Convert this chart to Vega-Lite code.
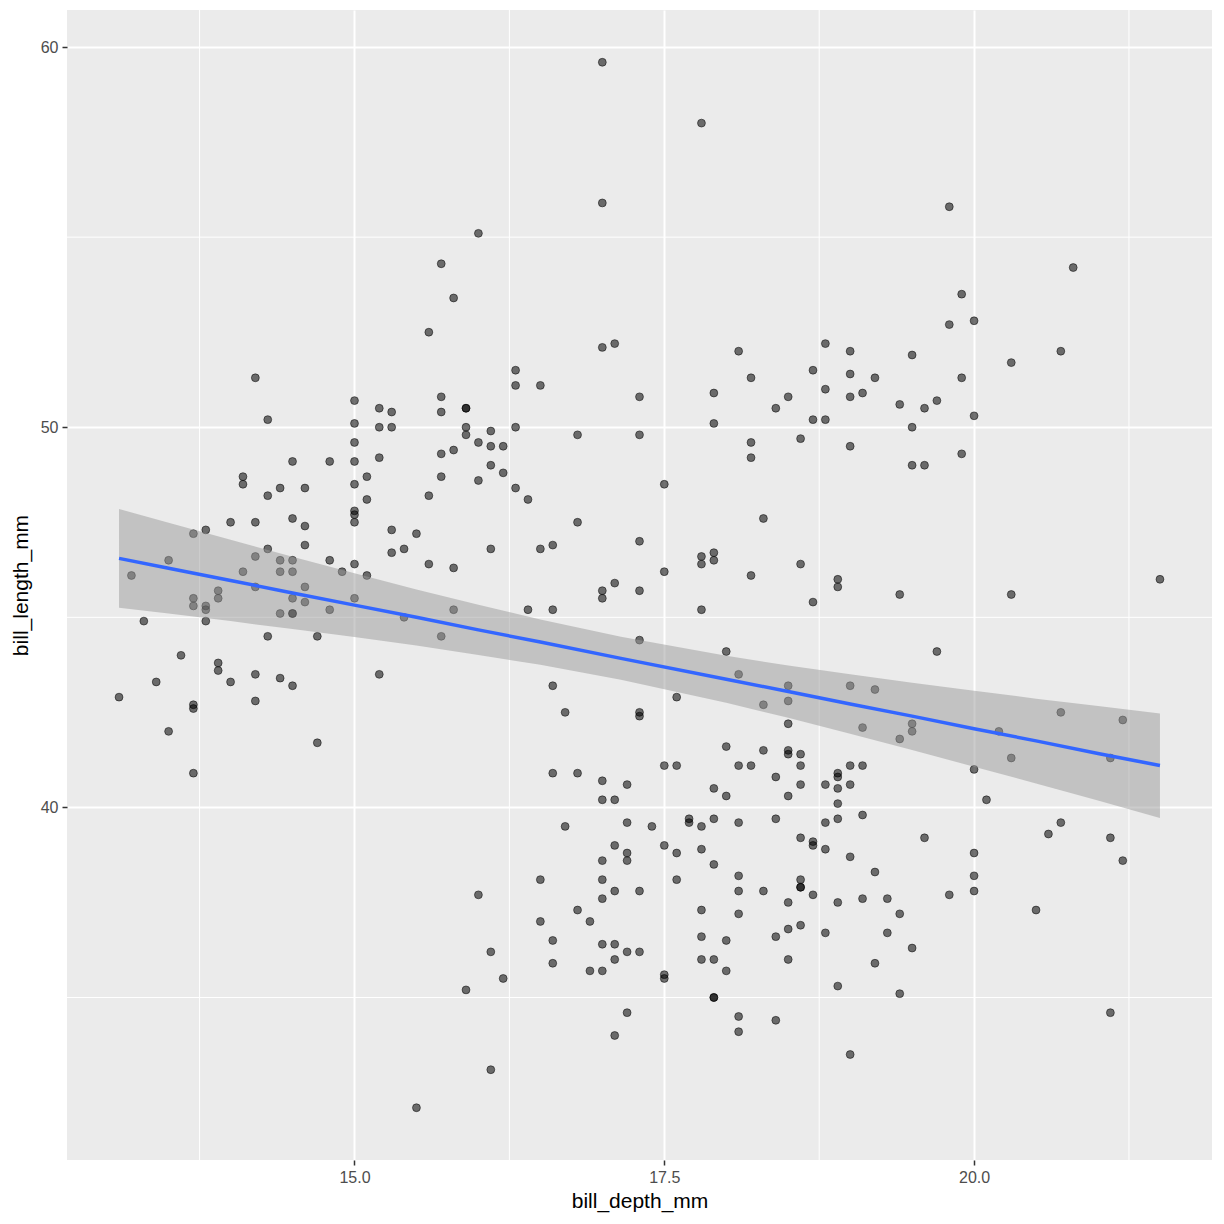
{
  "$schema": "https://vega.github.io/schema/vega-lite/v6.json",
  "width": 1145,
  "height": 1150,
  "autosize": {"type": "none"},
  "padding": {"left": 67, "top": 10, "right": 12, "bottom": 64},
  "background": "white",
  "config": {
    "view": {"fill": "#EBEBEB", "stroke": null},
    "font": "Liberation Sans",
    "axis": {
      "domain": false,
      "grid": true,
      "gridColor": "white",
      "gridWidth": 2,
      "tickColor": "#333333",
      "tickSize": 5,
      "tickWidth": 1.5,
      "labelFont": "Liberation Sans",
      "labelFontSize": 16,
      "labelColor": "#4D4D4D",
      "titleFont": "Liberation Sans",
      "titleFontSize": 21,
      "titleFontWeight": "normal",
      "titleColor": "black"
    }
  },
  "datasets": {
    "penguins": [
      {"bill_depth_mm":14.2,"bill_length_mm":51.3},{"bill_depth_mm":15.0,"bill_length_mm":50.7},{"bill_depth_mm":14.3,"bill_length_mm":50.2},{"bill_depth_mm":15.0,"bill_length_mm":50.1},{"bill_depth_mm":15.0,"bill_length_mm":49.6},{"bill_depth_mm":14.5,"bill_length_mm":49.1},{"bill_depth_mm":14.8,"bill_length_mm":49.1},{"bill_depth_mm":15.0,"bill_length_mm":49.1},{"bill_depth_mm":14.1,"bill_length_mm":48.7},{"bill_depth_mm":14.1,"bill_length_mm":48.5},
      {"bill_depth_mm":15.0,"bill_length_mm":48.5},{"bill_depth_mm":14.4,"bill_length_mm":48.4},{"bill_depth_mm":14.6,"bill_length_mm":48.4},{"bill_depth_mm":14.3,"bill_length_mm":48.2},{"bill_depth_mm":15.0,"bill_length_mm":47.8},{"bill_depth_mm":15.0,"bill_length_mm":47.7},{"bill_depth_mm":15.0,"bill_length_mm":47.5},{"bill_depth_mm":14.0,"bill_length_mm":47.5},{"bill_depth_mm":14.2,"bill_length_mm":47.5},{"bill_depth_mm":13.8,"bill_length_mm":47.3},
      {"bill_depth_mm":13.7,"bill_length_mm":47.2},{"bill_depth_mm":14.5,"bill_length_mm":47.6},{"bill_depth_mm":14.6,"bill_length_mm":47.4},{"bill_depth_mm":14.6,"bill_length_mm":46.9},{"bill_depth_mm":14.3,"bill_length_mm":46.8},{"bill_depth_mm":13.5,"bill_length_mm":46.5},{"bill_depth_mm":14.2,"bill_length_mm":46.6},{"bill_depth_mm":14.4,"bill_length_mm":46.5},{"bill_depth_mm":14.5,"bill_length_mm":46.5},{"bill_depth_mm":14.8,"bill_length_mm":46.5},
      {"bill_depth_mm":15.0,"bill_length_mm":46.4},{"bill_depth_mm":13.2,"bill_length_mm":46.1},{"bill_depth_mm":14.1,"bill_length_mm":46.2},{"bill_depth_mm":14.4,"bill_length_mm":46.2},{"bill_depth_mm":14.5,"bill_length_mm":46.2},{"bill_depth_mm":14.9,"bill_length_mm":46.2},{"bill_depth_mm":14.2,"bill_length_mm":45.8},{"bill_depth_mm":14.6,"bill_length_mm":45.8},{"bill_depth_mm":13.9,"bill_length_mm":45.7},{"bill_depth_mm":13.7,"bill_length_mm":45.5},
      {"bill_depth_mm":13.7,"bill_length_mm":45.3},{"bill_depth_mm":13.8,"bill_length_mm":45.3},{"bill_depth_mm":13.8,"bill_length_mm":45.2},{"bill_depth_mm":13.9,"bill_length_mm":45.5},{"bill_depth_mm":14.5,"bill_length_mm":45.5},{"bill_depth_mm":14.6,"bill_length_mm":45.4},{"bill_depth_mm":15.0,"bill_length_mm":45.5},{"bill_depth_mm":14.4,"bill_length_mm":45.1},{"bill_depth_mm":14.5,"bill_length_mm":45.1},{"bill_depth_mm":14.5,"bill_length_mm":45.1},
      {"bill_depth_mm":14.8,"bill_length_mm":45.2},{"bill_depth_mm":13.3,"bill_length_mm":44.9},{"bill_depth_mm":13.8,"bill_length_mm":44.9},{"bill_depth_mm":14.3,"bill_length_mm":44.5},{"bill_depth_mm":14.7,"bill_length_mm":44.5},{"bill_depth_mm":13.6,"bill_length_mm":44.0},{"bill_depth_mm":13.9,"bill_length_mm":43.8},{"bill_depth_mm":13.9,"bill_length_mm":43.6},{"bill_depth_mm":13.4,"bill_length_mm":43.3},{"bill_depth_mm":14.0,"bill_length_mm":43.3},
      {"bill_depth_mm":14.2,"bill_length_mm":43.5},{"bill_depth_mm":14.4,"bill_length_mm":43.4},{"bill_depth_mm":14.5,"bill_length_mm":43.2},{"bill_depth_mm":13.1,"bill_length_mm":42.9},{"bill_depth_mm":13.7,"bill_length_mm":42.7},{"bill_depth_mm":13.7,"bill_length_mm":42.6},{"bill_depth_mm":14.2,"bill_length_mm":42.8},{"bill_depth_mm":13.5,"bill_length_mm":42.0},{"bill_depth_mm":14.7,"bill_length_mm":41.7},{"bill_depth_mm":13.7,"bill_length_mm":40.9},
      {"bill_depth_mm":16.0,"bill_length_mm":55.1},{"bill_depth_mm":15.7,"bill_length_mm":54.3},{"bill_depth_mm":15.8,"bill_length_mm":53.4},{"bill_depth_mm":15.6,"bill_length_mm":52.5},{"bill_depth_mm":16.3,"bill_length_mm":51.5},{"bill_depth_mm":16.3,"bill_length_mm":51.1},{"bill_depth_mm":16.5,"bill_length_mm":51.1},{"bill_depth_mm":15.2,"bill_length_mm":50.5},{"bill_depth_mm":15.3,"bill_length_mm":50.4},{"bill_depth_mm":15.7,"bill_length_mm":50.8},
      {"bill_depth_mm":15.7,"bill_length_mm":50.4},{"bill_depth_mm":15.9,"bill_length_mm":50.5},{"bill_depth_mm":15.9,"bill_length_mm":50.5},{"bill_depth_mm":15.2,"bill_length_mm":50.0},{"bill_depth_mm":15.3,"bill_length_mm":50.0},{"bill_depth_mm":15.9,"bill_length_mm":50.0},{"bill_depth_mm":15.9,"bill_length_mm":49.8},{"bill_depth_mm":16.1,"bill_length_mm":49.9},{"bill_depth_mm":16.3,"bill_length_mm":50.0},{"bill_depth_mm":16.0,"bill_length_mm":49.6},
      {"bill_depth_mm":16.1,"bill_length_mm":49.5},{"bill_depth_mm":16.2,"bill_length_mm":49.5},{"bill_depth_mm":15.2,"bill_length_mm":49.2},{"bill_depth_mm":15.7,"bill_length_mm":49.3},{"bill_depth_mm":15.8,"bill_length_mm":49.4},{"bill_depth_mm":15.1,"bill_length_mm":48.7},{"bill_depth_mm":15.7,"bill_length_mm":48.7},{"bill_depth_mm":16.1,"bill_length_mm":49.0},{"bill_depth_mm":16.2,"bill_length_mm":48.8},{"bill_depth_mm":16.0,"bill_length_mm":48.6},
      {"bill_depth_mm":15.1,"bill_length_mm":48.1},{"bill_depth_mm":15.6,"bill_length_mm":48.2},{"bill_depth_mm":16.3,"bill_length_mm":48.4},{"bill_depth_mm":16.4,"bill_length_mm":48.1},{"bill_depth_mm":15.3,"bill_length_mm":47.3},{"bill_depth_mm":15.5,"bill_length_mm":47.2},{"bill_depth_mm":15.3,"bill_length_mm":46.7},{"bill_depth_mm":15.4,"bill_length_mm":46.8},{"bill_depth_mm":16.1,"bill_length_mm":46.8},{"bill_depth_mm":16.5,"bill_length_mm":46.8},
      {"bill_depth_mm":16.6,"bill_length_mm":46.9},{"bill_depth_mm":15.1,"bill_length_mm":46.1},{"bill_depth_mm":15.6,"bill_length_mm":46.4},{"bill_depth_mm":15.8,"bill_length_mm":46.3},{"bill_depth_mm":15.4,"bill_length_mm":45.0},{"bill_depth_mm":15.8,"bill_length_mm":45.2},{"bill_depth_mm":16.4,"bill_length_mm":45.2},{"bill_depth_mm":16.6,"bill_length_mm":45.2},{"bill_depth_mm":15.7,"bill_length_mm":44.5},{"bill_depth_mm":15.2,"bill_length_mm":43.5},
      {"bill_depth_mm":16.6,"bill_length_mm":43.2},{"bill_depth_mm":16.6,"bill_length_mm":40.9},{"bill_depth_mm":16.5,"bill_length_mm":38.1},{"bill_depth_mm":16.0,"bill_length_mm":37.7},{"bill_depth_mm":16.5,"bill_length_mm":37.0},{"bill_depth_mm":16.6,"bill_length_mm":36.5},{"bill_depth_mm":16.1,"bill_length_mm":36.2},{"bill_depth_mm":16.6,"bill_length_mm":35.9},{"bill_depth_mm":16.2,"bill_length_mm":35.5},{"bill_depth_mm":15.9,"bill_length_mm":35.2},
      {"bill_depth_mm":16.1,"bill_length_mm":33.1},{"bill_depth_mm":15.5,"bill_length_mm":32.1},{"bill_depth_mm":17.0,"bill_length_mm":59.6},{"bill_depth_mm":17.8,"bill_length_mm":58.0},{"bill_depth_mm":17.0,"bill_length_mm":55.9},{"bill_depth_mm":17.0,"bill_length_mm":52.1},{"bill_depth_mm":17.1,"bill_length_mm":52.2},{"bill_depth_mm":18.1,"bill_length_mm":52.0},{"bill_depth_mm":18.2,"bill_length_mm":51.3},{"bill_depth_mm":17.3,"bill_length_mm":50.8},
      {"bill_depth_mm":17.9,"bill_length_mm":50.9},{"bill_depth_mm":16.8,"bill_length_mm":49.8},{"bill_depth_mm":17.3,"bill_length_mm":49.8},{"bill_depth_mm":17.9,"bill_length_mm":50.1},{"bill_depth_mm":18.2,"bill_length_mm":49.6},{"bill_depth_mm":18.2,"bill_length_mm":49.2},{"bill_depth_mm":17.5,"bill_length_mm":48.5},{"bill_depth_mm":16.8,"bill_length_mm":47.5},{"bill_depth_mm":18.3,"bill_length_mm":47.6},{"bill_depth_mm":17.3,"bill_length_mm":47.0},
      {"bill_depth_mm":17.8,"bill_length_mm":46.6},{"bill_depth_mm":17.8,"bill_length_mm":46.4},{"bill_depth_mm":17.9,"bill_length_mm":46.7},{"bill_depth_mm":17.9,"bill_length_mm":46.5},{"bill_depth_mm":17.5,"bill_length_mm":46.2},{"bill_depth_mm":17.0,"bill_length_mm":45.7},{"bill_depth_mm":17.0,"bill_length_mm":45.5},{"bill_depth_mm":17.1,"bill_length_mm":45.9},{"bill_depth_mm":17.3,"bill_length_mm":45.7},{"bill_depth_mm":18.2,"bill_length_mm":46.1},
      {"bill_depth_mm":17.8,"bill_length_mm":45.2},{"bill_depth_mm":17.3,"bill_length_mm":44.4},{"bill_depth_mm":18.0,"bill_length_mm":44.1},{"bill_depth_mm":18.1,"bill_length_mm":43.5},{"bill_depth_mm":17.6,"bill_length_mm":42.9},{"bill_depth_mm":16.7,"bill_length_mm":42.5},{"bill_depth_mm":17.3,"bill_length_mm":42.5},{"bill_depth_mm":17.3,"bill_length_mm":42.4},{"bill_depth_mm":18.0,"bill_length_mm":41.6},{"bill_depth_mm":16.8,"bill_length_mm":40.9},
      {"bill_depth_mm":17.5,"bill_length_mm":41.1},{"bill_depth_mm":17.6,"bill_length_mm":41.1},{"bill_depth_mm":18.1,"bill_length_mm":41.1},{"bill_depth_mm":18.2,"bill_length_mm":41.1},{"bill_depth_mm":17.0,"bill_length_mm":40.7},{"bill_depth_mm":17.2,"bill_length_mm":40.6},{"bill_depth_mm":17.9,"bill_length_mm":40.5},{"bill_depth_mm":18.0,"bill_length_mm":40.3},{"bill_depth_mm":17.0,"bill_length_mm":40.2},{"bill_depth_mm":17.1,"bill_length_mm":40.2},
      {"bill_depth_mm":16.7,"bill_length_mm":39.5},{"bill_depth_mm":17.2,"bill_length_mm":39.6},{"bill_depth_mm":17.4,"bill_length_mm":39.5},{"bill_depth_mm":17.7,"bill_length_mm":39.7},{"bill_depth_mm":17.7,"bill_length_mm":39.6},{"bill_depth_mm":17.8,"bill_length_mm":39.5},{"bill_depth_mm":17.9,"bill_length_mm":39.7},{"bill_depth_mm":18.1,"bill_length_mm":39.6},{"bill_depth_mm":17.1,"bill_length_mm":39.0},{"bill_depth_mm":17.2,"bill_length_mm":38.8},
      {"bill_depth_mm":17.2,"bill_length_mm":38.6},{"bill_depth_mm":17.0,"bill_length_mm":38.6},{"bill_depth_mm":17.5,"bill_length_mm":39.0},{"bill_depth_mm":17.6,"bill_length_mm":38.8},{"bill_depth_mm":17.8,"bill_length_mm":38.9},{"bill_depth_mm":17.9,"bill_length_mm":38.5},{"bill_depth_mm":17.0,"bill_length_mm":38.1},{"bill_depth_mm":17.6,"bill_length_mm":38.1},{"bill_depth_mm":18.1,"bill_length_mm":38.2},{"bill_depth_mm":17.1,"bill_length_mm":37.8},
      {"bill_depth_mm":17.3,"bill_length_mm":37.8},{"bill_depth_mm":18.1,"bill_length_mm":37.8},{"bill_depth_mm":17.0,"bill_length_mm":37.6},{"bill_depth_mm":16.8,"bill_length_mm":37.3},{"bill_depth_mm":16.9,"bill_length_mm":37.0},{"bill_depth_mm":17.8,"bill_length_mm":37.3},{"bill_depth_mm":18.1,"bill_length_mm":37.2},{"bill_depth_mm":17.0,"bill_length_mm":36.4},{"bill_depth_mm":17.1,"bill_length_mm":36.4},{"bill_depth_mm":17.2,"bill_length_mm":36.2},
      {"bill_depth_mm":17.3,"bill_length_mm":36.2},{"bill_depth_mm":17.1,"bill_length_mm":36.0},{"bill_depth_mm":17.8,"bill_length_mm":36.6},{"bill_depth_mm":18.0,"bill_length_mm":36.5},{"bill_depth_mm":16.9,"bill_length_mm":35.7},{"bill_depth_mm":17.0,"bill_length_mm":35.7},{"bill_depth_mm":17.8,"bill_length_mm":36.0},{"bill_depth_mm":17.9,"bill_length_mm":36.0},{"bill_depth_mm":18.0,"bill_length_mm":35.7},{"bill_depth_mm":17.5,"bill_length_mm":35.6},
      {"bill_depth_mm":17.5,"bill_length_mm":35.5},{"bill_depth_mm":17.9,"bill_length_mm":35.0},{"bill_depth_mm":17.9,"bill_length_mm":35.0},{"bill_depth_mm":17.2,"bill_length_mm":34.6},{"bill_depth_mm":18.1,"bill_length_mm":34.5},{"bill_depth_mm":18.1,"bill_length_mm":34.1},{"bill_depth_mm":17.1,"bill_length_mm":34.0},{"bill_depth_mm":18.5,"bill_length_mm":50.8},{"bill_depth_mm":18.4,"bill_length_mm":50.5},{"bill_depth_mm":18.7,"bill_length_mm":51.5},
      {"bill_depth_mm":18.8,"bill_length_mm":52.2},{"bill_depth_mm":18.7,"bill_length_mm":50.2},{"bill_depth_mm":18.8,"bill_length_mm":50.2},{"bill_depth_mm":18.8,"bill_length_mm":51.0},{"bill_depth_mm":19.0,"bill_length_mm":52.0},{"bill_depth_mm":19.0,"bill_length_mm":51.4},{"bill_depth_mm":19.0,"bill_length_mm":50.8},{"bill_depth_mm":19.1,"bill_length_mm":50.9},{"bill_depth_mm":19.2,"bill_length_mm":51.3},{"bill_depth_mm":19.5,"bill_length_mm":51.9},
      {"bill_depth_mm":19.4,"bill_length_mm":50.6},{"bill_depth_mm":19.6,"bill_length_mm":50.5},{"bill_depth_mm":19.7,"bill_length_mm":50.7},{"bill_depth_mm":19.8,"bill_length_mm":52.7},{"bill_depth_mm":20.0,"bill_length_mm":52.8},{"bill_depth_mm":19.9,"bill_length_mm":51.3},{"bill_depth_mm":20.0,"bill_length_mm":50.3},{"bill_depth_mm":19.5,"bill_length_mm":50.0},{"bill_depth_mm":18.6,"bill_length_mm":49.7},{"bill_depth_mm":19.0,"bill_length_mm":49.5},
      {"bill_depth_mm":19.5,"bill_length_mm":49.0},{"bill_depth_mm":19.6,"bill_length_mm":49.0},{"bill_depth_mm":19.9,"bill_length_mm":49.3},{"bill_depth_mm":18.6,"bill_length_mm":46.4},{"bill_depth_mm":18.7,"bill_length_mm":45.4},{"bill_depth_mm":18.9,"bill_length_mm":46.0},{"bill_depth_mm":18.9,"bill_length_mm":45.8},{"bill_depth_mm":19.4,"bill_length_mm":45.6},{"bill_depth_mm":19.7,"bill_length_mm":44.1},{"bill_depth_mm":18.5,"bill_length_mm":43.2},
      {"bill_depth_mm":18.3,"bill_length_mm":42.7},{"bill_depth_mm":18.5,"bill_length_mm":42.8},{"bill_depth_mm":18.5,"bill_length_mm":42.2},{"bill_depth_mm":19.0,"bill_length_mm":43.2},{"bill_depth_mm":19.2,"bill_length_mm":43.1},{"bill_depth_mm":19.1,"bill_length_mm":42.1},{"bill_depth_mm":19.5,"bill_length_mm":42.2},{"bill_depth_mm":19.5,"bill_length_mm":42.0},{"bill_depth_mm":19.4,"bill_length_mm":41.8},{"bill_depth_mm":18.3,"bill_length_mm":41.5},
      {"bill_depth_mm":18.5,"bill_length_mm":41.5},{"bill_depth_mm":18.5,"bill_length_mm":41.4},{"bill_depth_mm":18.6,"bill_length_mm":41.4},{"bill_depth_mm":18.6,"bill_length_mm":41.1},{"bill_depth_mm":18.4,"bill_length_mm":40.8},{"bill_depth_mm":18.6,"bill_length_mm":40.6},{"bill_depth_mm":18.8,"bill_length_mm":40.6},{"bill_depth_mm":18.9,"bill_length_mm":40.9},{"bill_depth_mm":18.9,"bill_length_mm":40.8},{"bill_depth_mm":18.9,"bill_length_mm":40.5},
      {"bill_depth_mm":19.0,"bill_length_mm":41.1},{"bill_depth_mm":19.1,"bill_length_mm":41.1},{"bill_depth_mm":19.0,"bill_length_mm":40.6},{"bill_depth_mm":18.5,"bill_length_mm":40.3},{"bill_depth_mm":18.9,"bill_length_mm":40.1},{"bill_depth_mm":20.0,"bill_length_mm":41.0},{"bill_depth_mm":18.4,"bill_length_mm":39.7},{"bill_depth_mm":18.8,"bill_length_mm":39.6},{"bill_depth_mm":18.9,"bill_length_mm":39.7},{"bill_depth_mm":19.1,"bill_length_mm":39.8},
      {"bill_depth_mm":18.6,"bill_length_mm":39.2},{"bill_depth_mm":18.7,"bill_length_mm":39.1},{"bill_depth_mm":18.7,"bill_length_mm":39.0},{"bill_depth_mm":18.8,"bill_length_mm":38.9},{"bill_depth_mm":19.0,"bill_length_mm":38.7},{"bill_depth_mm":19.6,"bill_length_mm":39.2},{"bill_depth_mm":20.0,"bill_length_mm":38.8},{"bill_depth_mm":18.3,"bill_length_mm":37.8},{"bill_depth_mm":18.6,"bill_length_mm":38.1},{"bill_depth_mm":18.6,"bill_length_mm":37.9},
      {"bill_depth_mm":18.6,"bill_length_mm":37.9},{"bill_depth_mm":18.7,"bill_length_mm":37.7},{"bill_depth_mm":18.5,"bill_length_mm":37.5},{"bill_depth_mm":18.9,"bill_length_mm":37.5},{"bill_depth_mm":19.1,"bill_length_mm":37.6},{"bill_depth_mm":19.3,"bill_length_mm":37.6},{"bill_depth_mm":19.2,"bill_length_mm":38.3},{"bill_depth_mm":19.4,"bill_length_mm":37.2},{"bill_depth_mm":19.8,"bill_length_mm":37.7},{"bill_depth_mm":20.0,"bill_length_mm":38.2},
      {"bill_depth_mm":20.0,"bill_length_mm":37.8},{"bill_depth_mm":18.5,"bill_length_mm":36.8},{"bill_depth_mm":18.6,"bill_length_mm":36.9},{"bill_depth_mm":18.4,"bill_length_mm":36.6},{"bill_depth_mm":18.8,"bill_length_mm":36.7},{"bill_depth_mm":19.3,"bill_length_mm":36.7},{"bill_depth_mm":19.5,"bill_length_mm":36.3},{"bill_depth_mm":18.5,"bill_length_mm":36.0},{"bill_depth_mm":19.2,"bill_length_mm":35.9},{"bill_depth_mm":18.9,"bill_length_mm":35.3},
      {"bill_depth_mm":19.4,"bill_length_mm":35.1},{"bill_depth_mm":18.4,"bill_length_mm":34.4},{"bill_depth_mm":19.0,"bill_length_mm":33.5},{"bill_depth_mm":20.8,"bill_length_mm":54.2},{"bill_depth_mm":20.7,"bill_length_mm":52.0},{"bill_depth_mm":20.3,"bill_length_mm":51.7},{"bill_depth_mm":20.3,"bill_length_mm":45.6},{"bill_depth_mm":21.5,"bill_length_mm":46.0},{"bill_depth_mm":20.7,"bill_length_mm":42.5},{"bill_depth_mm":21.2,"bill_length_mm":42.3},
      {"bill_depth_mm":20.2,"bill_length_mm":42.0},{"bill_depth_mm":20.3,"bill_length_mm":41.3},{"bill_depth_mm":21.1,"bill_length_mm":41.3},{"bill_depth_mm":20.1,"bill_length_mm":40.2},{"bill_depth_mm":20.7,"bill_length_mm":39.6},{"bill_depth_mm":20.6,"bill_length_mm":39.3},{"bill_depth_mm":21.1,"bill_length_mm":39.2},{"bill_depth_mm":21.2,"bill_length_mm":38.6},{"bill_depth_mm":20.5,"bill_length_mm":37.3},{"bill_depth_mm":21.1,"bill_length_mm":34.6},
      {"bill_depth_mm":19.8,"bill_length_mm":55.8},{"bill_depth_mm":19.9,"bill_length_mm":53.5}
    ],
    "smooth": [
      {"bill_depth_mm":13.1,"fit":46.55,"lo":45.25,"hi":47.85},
      {"bill_depth_mm":13.5,"fit":46.29,"lo":45.10,"hi":47.49},
      {"bill_depth_mm":14.0,"fit":45.97,"lo":44.90,"hi":47.04},
      {"bill_depth_mm":14.5,"fit":45.64,"lo":44.69,"hi":46.59},
      {"bill_depth_mm":15.0,"fit":45.32,"lo":44.48,"hi":46.16},
      {"bill_depth_mm":15.5,"fit":45.00,"lo":44.26,"hi":45.73},
      {"bill_depth_mm":16.0,"fit":44.67,"lo":44.01,"hi":45.33},
      {"bill_depth_mm":16.5,"fit":44.35,"lo":43.75,"hi":44.94},
      {"bill_depth_mm":17.15,"fit":43.92,"lo":43.36,"hi":44.49},
      {"bill_depth_mm":18.0,"fit":43.37,"lo":42.75,"hi":43.99},
      {"bill_depth_mm":18.5,"fit":43.05,"lo":42.36,"hi":43.73},
      {"bill_depth_mm":19.0,"fit":42.72,"lo":41.94,"hi":43.50},
      {"bill_depth_mm":19.5,"fit":42.40,"lo":41.51,"hi":43.28},
      {"bill_depth_mm":20.0,"fit":42.07,"lo":41.07,"hi":43.07},
      {"bill_depth_mm":20.5,"fit":41.75,"lo":40.63,"hi":42.86},
      {"bill_depth_mm":21.0,"fit":41.42,"lo":40.18,"hi":42.67},
      {"bill_depth_mm":21.5,"fit":41.10,"lo":39.72,"hi":42.47}
    ],
    "minor_x": [{"bill_depth_mm":13.75},{"bill_depth_mm":16.25},{"bill_depth_mm":18.75},{"bill_depth_mm":21.25}],
    "minor_y": [{"bill_length_mm":35},{"bill_length_mm":45},{"bill_length_mm":55}]
  },
  "layer": [
    {
      "data": {"name": "minor_x"},
      "mark": {"type": "rule", "color": "white", "strokeWidth": 1},
      "encoding": {
        "x": {"field": "bill_depth_mm", "type": "quantitative", "title": "bill_depth_mm",
              "scale": {"domain": [12.68, 21.92], "nice": false, "zero": false},
              "axis": {"values": [15, 17.5, 20], "format": ".1f", "labelPadding": 4, "titlePadding": 5}}
      }
    },
    {
      "data": {"name": "minor_y"},
      "mark": {"type": "rule", "color": "white", "strokeWidth": 1},
      "encoding": {
        "y": {"field": "bill_length_mm", "type": "quantitative", "title": "bill_length_mm",
              "scale": {"domain": [30.725, 60.975], "nice": false, "zero": false},
              "axis": {"values": [40, 50, 60], "format": "d", "labelPadding": 4, "titlePadding": 9}}
      }
    },
    {
      "data": {"name": "penguins"},
      "mark": {"type": "circle", "size": 62, "fill": "black", "fillOpacity": 0.55, "stroke": "black", "strokeOpacity": 0.5, "strokeWidth": 1},
      "encoding": {
        "x": {"field": "bill_depth_mm", "type": "quantitative", "title": "bill_depth_mm"},
        "y": {"field": "bill_length_mm", "type": "quantitative", "title": "bill_length_mm"}
      }
    },
    {
      "data": {"name": "smooth"},
      "mark": {"type": "area", "color": "#999999", "opacity": 0.5},
      "encoding": {
        "x": {"field": "bill_depth_mm", "type": "quantitative", "title": "bill_depth_mm"},
        "y": {"field": "lo", "type": "quantitative", "title": "bill_length_mm"},
        "y2": {"field": "hi"}
      }
    },
    {
      "data": {"name": "smooth"},
      "mark": {"type": "line", "color": "#3366FF", "strokeWidth": 3.5},
      "encoding": {
        "x": {"field": "bill_depth_mm", "type": "quantitative", "title": "bill_depth_mm"},
        "y": {"field": "fit", "type": "quantitative", "title": "bill_length_mm"}
      }
    }
  ]
}
